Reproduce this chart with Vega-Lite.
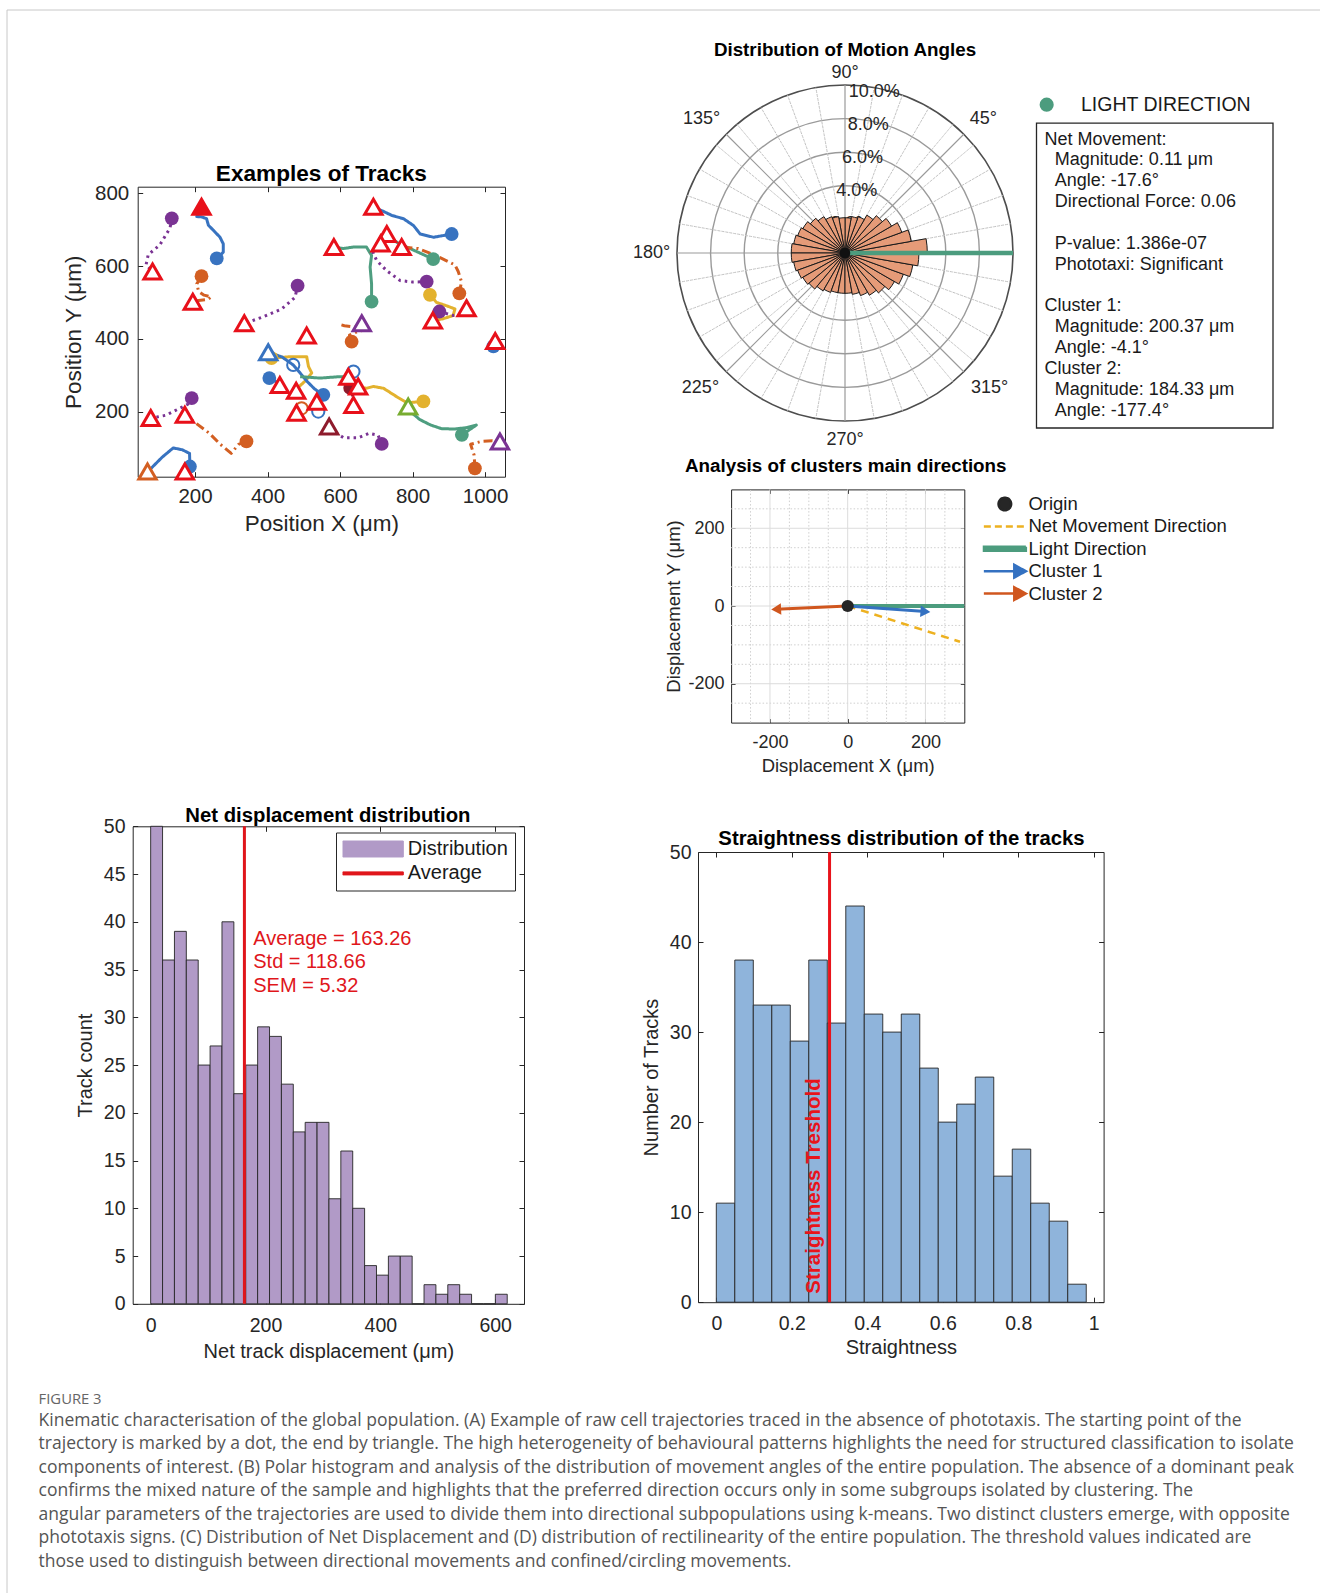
{
  "$schema": "https://vega.github.io/schema/vega-lite/v6.json",
  "width": 1320,
  "height": 1593,
  "padding": 0,
  "autosize": {"type": "none"},
  "background": "white",
  "config": {
    "view": {"stroke": null},
    "font": "Liberation Sans",
    "axis": {
      "domainColor": "#262626", "tickColor": "#262626", "labelColor": "#262626", "titleColor": "#262626",
      "domainWidth": 1, "tickWidth": 1, "tickSize": -5, "grid": false,
      "labelFlush": false, "labelOverlap": false, "labelBound": false,
      "titleFontWeight": "normal"
    }
  },
  "datasets": {
    "tracks": [
      {"t":1,"s":0,"x":136,"y":731,"c":"purple"},{"t":1,"s":1,"x":131,"y":704,"c":"purple"},{"t":1,"s":2,"x":103,"y":658,"c":"purple"},{"t":1,"s":3,"x":71,"y":631,"c":"purple"},{"t":1,"s":4,"x":65,"y":603,"c":"purple"},{"t":1,"s":5,"x":83,"y":585,"c":"purple"},
      {"t":2,"s":0,"x":260,"y":621,"c":"blue"},{"t":2,"s":1,"x":278,"y":638,"c":"blue"},{"t":2,"s":2,"x":278,"y":661,"c":"blue"},{"t":2,"s":3,"x":269,"y":679,"c":"blue"},{"t":2,"s":4,"x":251,"y":698,"c":"blue"},{"t":2,"s":5,"x":237,"y":712,"c":"blue"},{"t":2,"s":6,"x":232,"y":730,"c":"blue"},{"t":2,"s":7,"x":218,"y":735,"c":"blue"},{"t":2,"s":8,"x":205,"y":736,"c":"blue"},{"t":2,"s":9,"x":212,"y":748,"c":"blue"},
      {"t":3,"s":0,"x":218,"y":572,"c":"orange"},{"t":3,"s":1,"x":205,"y":551,"c":"orange"},{"t":3,"s":2,"x":210,"y":530,"c":"orange"},{"t":3,"s":3,"x":225,"y":520,"c":"orange"},{"t":3,"s":4,"x":245,"y":515,"c":"orange"},{"t":3,"s":5,"x":235,"y":508,"c":"orange"},{"t":3,"s":6,"x":210,"y":505,"c":"orange"},{"t":3,"s":7,"x":194,"y":503,"c":"orange"},
      {"t":4,"s":0,"x":483,"y":546,"c":"purple"},{"t":4,"s":1,"x":476,"y":514,"c":"purple"},{"t":4,"s":2,"x":439,"y":482,"c":"purple"},{"t":4,"s":3,"x":384,"y":459,"c":"purple"},{"t":4,"s":4,"x":336,"y":442,"c":"purple"},
      {"t":5,"s":0,"x":908,"y":688,"c":"blue"},{"t":5,"s":1,"x":858,"y":679,"c":"blue"},{"t":5,"s":2,"x":821,"y":688,"c":"blue"},{"t":5,"s":3,"x":803,"y":711,"c":"blue"},{"t":5,"s":4,"x":775,"y":730,"c":"blue"},{"t":5,"s":5,"x":743,"y":739,"c":"blue"},{"t":5,"s":6,"x":720,"y":750,"c":"blue"},{"t":5,"s":7,"x":692,"y":762,"c":"blue"},
      {"t":6,"s":0,"x":687,"y":502,"c":"teal"},{"t":6,"s":1,"x":687,"y":551,"c":"teal"},{"t":6,"s":2,"x":683,"y":597,"c":"teal"},{"t":6,"s":3,"x":687,"y":629,"c":"teal"},{"t":6,"s":4,"x":673,"y":652,"c":"teal"},{"t":6,"s":5,"x":636,"y":652,"c":"teal"},{"t":6,"s":6,"x":609,"y":648,"c":"teal"},{"t":6,"s":7,"x":584,"y":652,"c":"teal"},
      {"t":7,"s":0,"x":857,"y":619,"c":"teal"},{"t":7,"s":1,"x":802,"y":644,"c":"teal"},{"t":7,"s":2,"x":760,"y":663,"c":"teal"},{"t":7,"s":3,"x":729,"y":686,"c":"teal"},
      {"t":8,"s":0,"x":839,"y":557,"c":"purple"},{"t":8,"s":1,"x":800,"y":556,"c":"purple"},{"t":8,"s":2,"x":766,"y":560,"c":"purple"},{"t":8,"s":3,"x":729,"y":587,"c":"purple"},{"t":8,"s":4,"x":701,"y":615,"c":"purple"},{"t":8,"s":5,"x":690,"y":640,"c":"purple"},{"t":8,"s":6,"x":712,"y":662,"c":"purple"},
      {"t":9,"s":0,"x":929,"y":525,"c":"orange"},{"t":9,"s":1,"x":935,"y":557,"c":"orange"},{"t":9,"s":2,"x":926,"y":585,"c":"orange"},{"t":9,"s":3,"x":917,"y":603,"c":"orange"},{"t":9,"s":4,"x":899,"y":612,"c":"orange"},{"t":9,"s":5,"x":862,"y":630,"c":"orange"},{"t":9,"s":6,"x":816,"y":648,"c":"orange"},{"t":9,"s":7,"x":770,"y":652,"c":"orange"},
      {"t":10,"s":0,"x":848,"y":521,"c":"yellow"},{"t":10,"s":1,"x":866,"y":500,"c":"yellow"},{"t":10,"s":2,"x":893,"y":491,"c":"yellow"},{"t":10,"s":3,"x":917,"y":482,"c":"yellow"},{"t":10,"s":4,"x":912,"y":464,"c":"yellow"},{"t":10,"s":5,"x":884,"y":455,"c":"yellow"},{"t":10,"s":6,"x":856,"y":450,"c":"yellow"},
      {"t":11,"s":0,"x":874,"y":475,"c":"purple"},{"t":11,"s":1,"x":912,"y":464,"c":"purple"},{"t":11,"s":2,"x":940,"y":468,"c":"purple"},{"t":11,"s":3,"x":949,"y":482,"c":"purple"},
      {"t":12,"s":0,"x":632,"y":392,"c":"orange"},{"t":12,"s":1,"x":626,"y":410,"c":"orange"},{"t":12,"s":2,"x":648,"y":420,"c":"orange"},{"t":12,"s":3,"x":668,"y":424,"c":"orange"},{"t":12,"s":4,"x":645,"y":432,"c":"orange"},{"t":12,"s":5,"x":612,"y":436,"c":"orange"},{"t":12,"s":6,"x":598,"y":440,"c":"orange"},
      {"t":13,"s":0,"x":1023,"y":379,"c":"blue"},{"t":13,"s":1,"x":1012,"y":387,"c":"blue"},{"t":13,"s":2,"x":1028,"y":394,"c":"blue"},
      {"t":14,"s":0,"x":411,"y":347,"c":"yellow"},{"t":14,"s":1,"x":467,"y":351,"c":"yellow"},{"t":14,"s":2,"x":508,"y":351,"c":"yellow"},{"t":14,"s":3,"x":513,"y":324,"c":"yellow"},{"t":14,"s":4,"x":522,"y":306,"c":"yellow"},{"t":14,"s":5,"x":505,"y":285,"c":"yellow"},{"t":14,"s":6,"x":480,"y":262,"c":"yellow"},
      {"t":15,"s":0,"x":554,"y":246,"c":"blue"},{"t":15,"s":1,"x":530,"y":262,"c":"blue"},{"t":15,"s":2,"x":510,"y":282,"c":"blue"},{"t":15,"s":3,"x":495,"y":300,"c":"blue"},{"t":15,"s":4,"x":471,"y":328,"c":"blue"},{"t":15,"s":5,"x":440,"y":350,"c":"blue"},{"t":15,"s":6,"x":402,"y":363,"c":"blue"},
      {"t":16,"s":0,"x":405,"y":292,"c":"blue"},{"t":16,"s":1,"x":420,"y":285,"c":"blue"},{"t":16,"s":2,"x":434,"y":273,"c":"blue"},
      {"t":17,"s":0,"x":490,"y":296,"c":"teal"},{"t":17,"s":1,"x":545,"y":292,"c":"teal"},{"t":17,"s":2,"x":600,"y":296,"c":"teal"},{"t":17,"s":3,"x":621,"y":296,"c":"teal"},
      {"t":18,"s":0,"x":830,"y":228,"c":"yellow"},{"t":18,"s":1,"x":785,"y":224,"c":"yellow"},{"t":18,"s":2,"x":756,"y":241,"c":"yellow"},{"t":18,"s":3,"x":720,"y":264,"c":"yellow"},{"t":18,"s":4,"x":692,"y":269,"c":"yellow"},{"t":18,"s":5,"x":673,"y":264,"c":"yellow"},{"t":18,"s":6,"x":650,"y":268,"c":"yellow"},
      {"t":19,"s":0,"x":936,"y":136,"c":"teal"},{"t":19,"s":1,"x":960,"y":152,"c":"teal"},{"t":19,"s":2,"x":976,"y":163,"c":"teal"},{"t":19,"s":3,"x":950,"y":156,"c":"teal"},{"t":19,"s":4,"x":915,"y":152,"c":"teal"},{"t":19,"s":5,"x":880,"y":153,"c":"teal"},{"t":19,"s":6,"x":850,"y":163,"c":"teal"},{"t":19,"s":7,"x":820,"y":178,"c":"teal"},{"t":19,"s":8,"x":800,"y":195,"c":"teal"},{"t":19,"s":9,"x":788,"y":214,"c":"teal"},
      {"t":20,"s":0,"x":715,"y":111,"c":"purple"},{"t":20,"s":1,"x":705,"y":135,"c":"purple"},{"t":20,"s":2,"x":680,"y":140,"c":"purple"},{"t":20,"s":3,"x":650,"y":128,"c":"purple"},{"t":20,"s":4,"x":610,"y":128,"c":"purple"},{"t":20,"s":5,"x":575,"y":150,"c":"purple"},{"t":20,"s":6,"x":570,"y":159,"c":"purple"},
      {"t":21,"s":0,"x":191,"y":237,"c":"purple"},{"t":21,"s":1,"x":180,"y":220,"c":"purple"},{"t":21,"s":2,"x":150,"y":205,"c":"purple"},{"t":21,"s":3,"x":120,"y":190,"c":"purple"},{"t":21,"s":4,"x":95,"y":185,"c":"purple"},{"t":21,"s":5,"x":78,"y":182,"c":"purple"},
      {"t":22,"s":0,"x":342,"y":118,"c":"orange"},{"t":22,"s":1,"x":320,"y":110,"c":"orange"},{"t":22,"s":2,"x":300,"y":85,"c":"orange"},{"t":22,"s":3,"x":270,"y":110,"c":"orange"},{"t":22,"s":4,"x":240,"y":140,"c":"orange"},{"t":22,"s":5,"x":200,"y":170,"c":"orange"},{"t":22,"s":6,"x":172,"y":191,"c":"orange"},
      {"t":23,"s":0,"x":186,"y":49,"c":"blue"},{"t":23,"s":1,"x":185,"y":85,"c":"blue"},{"t":23,"s":2,"x":165,"y":95,"c":"blue"},{"t":23,"s":3,"x":140,"y":100,"c":"blue"},{"t":23,"s":4,"x":110,"y":75,"c":"blue"},{"t":23,"s":5,"x":80,"y":45,"c":"blue"},{"t":23,"s":6,"x":69,"y":35,"c":"blue"},
      {"t":24,"s":0,"x":972,"y":44,"c":"orange"},{"t":24,"s":1,"x":970,"y":80,"c":"orange"},{"t":24,"s":2,"x":960,"y":110,"c":"orange"},{"t":24,"s":3,"x":990,"y":118,"c":"orange"},{"t":24,"s":4,"x":1020,"y":120,"c":"orange"},{"t":24,"s":5,"x":1041,"y":118,"c":"orange"},
      {"t":25,"s":0,"x":628,"y":300,"c":"darkred"},{"t":25,"s":1,"x":624,"y":282,"c":"darkred"},{"t":25,"s":2,"x":630,"y":262,"c":"darkred"},{"t":25,"s":3,"x":636,"y":240,"c":"darkred"},{"t":25,"s":4,"x":637,"y":218,"c":"darkred"}
    ],
    "starts": [
      {"x":136,"y":731,"c":"purple"},{"x":260,"y":621,"c":"blue"},{"x":218,"y":572,"c":"orange"},{"x":483,"y":546,"c":"purple"},{"x":908,"y":688,"c":"blue"},{"x":687,"y":502,"c":"teal"},{"x":857,"y":619,"c":"teal"},{"x":839,"y":557,"c":"purple"},{"x":929,"y":525,"c":"orange"},{"x":848,"y":521,"c":"yellow"},{"x":874,"y":475,"c":"purple"},{"x":632,"y":392,"c":"orange"},{"x":1023,"y":379,"c":"blue"},{"x":411,"y":347,"c":"yellow"},{"x":405,"y":292,"c":"blue"},{"x":554,"y":246,"c":"blue"},{"x":830,"y":228,"c":"yellow"},{"x":936,"y":136,"c":"teal"},{"x":715,"y":111,"c":"purple"},{"x":191,"y":237,"c":"purple"},{"x":342,"y":118,"c":"orange"},{"x":186,"y":49,"c":"blue"},{"x":972,"y":44,"c":"orange"},{"x":628,"y":265,"c":"darkred"}
    ],
    "opens": [
      {"x":471,"y":328,"c":"blue"},{"x":637,"y":310,"c":"blue"},{"x":540,"y":200,"c":"blue"},{"x":494,"y":209,"c":"orange"}
    ],
    "ends": [
      {"x":83,"y":585,"c":"red"},{"x":194,"y":502,"c":"red"},{"x":336,"y":443,"c":"red"},{"x":692,"y":763,"c":"red"},{"x":583,"y":652,"c":"red"},{"x":729,"y":688,"c":"red"},{"x":712,"y":662,"c":"red"},{"x":770,"y":652,"c":"red"},{"x":949,"y":484,"c":"red"},{"x":856,"y":450,"c":"red"},{"x":660,"y":443,"c":"purple"},{"x":1028,"y":394,"c":"red"},{"x":508,"y":409,"c":"red"},{"x":402,"y":363,"c":"blue"},{"x":434,"y":273,"c":"red"},{"x":479,"y":257,"c":"red"},{"x":536,"y":227,"c":"red"},{"x":480,"y":197,"c":"red"},{"x":623,"y":296,"c":"red"},{"x":650,"y":269,"c":"red"},{"x":637,"y":218,"c":"red"},{"x":788,"y":214,"c":"yellowgreen"},{"x":570,"y":159,"c":"darkred"},{"x":1041,"y":118,"c":"purple"},{"x":78,"y":182,"c":"red"},{"x":172,"y":191,"c":"red"},{"x":69,"y":35,"c":"orange"},{"x":172,"y":35,"c":"red"}
    ],
    "rose": [
      {"a0":0,"a1":10,"r":4.9},{"a0":10,"a1":20,"r":4.0},{"a0":20,"a1":30,"r":3.6},{"a0":30,"a1":40,"r":3.2},{"a0":40,"a1":50,"r":2.9},{"a0":50,"a1":60,"r":2.6},{"a0":60,"a1":70,"r":2.3},{"a0":70,"a1":80,"r":2.2},{"a0":80,"a1":90,"r":2.1},
      {"a0":90,"a1":100,"r":2.1},{"a0":100,"a1":110,"r":2.2},{"a0":110,"a1":120,"r":2.3},{"a0":120,"a1":130,"r":2.5},{"a0":130,"a1":140,"r":2.7},{"a0":140,"a1":150,"r":2.9},{"a0":150,"a1":160,"r":3.0},{"a0":160,"a1":170,"r":3.1},{"a0":170,"a1":180,"r":3.2},
      {"a0":180,"a1":190,"r":3.2},{"a0":190,"a1":200,"r":3.1},{"a0":200,"a1":210,"r":3.0},{"a0":210,"a1":220,"r":2.9},{"a0":220,"a1":230,"r":2.8},{"a0":230,"a1":240,"r":2.6},{"a0":240,"a1":250,"r":2.5},{"a0":250,"a1":260,"r":2.4},{"a0":260,"a1":270,"r":2.4},
      {"a0":270,"a1":280,"r":2.4},{"a0":280,"a1":290,"r":2.5},{"a0":290,"a1":300,"r":2.7},{"a0":300,"a1":310,"r":2.9},{"a0":310,"a1":320,"r":3.1},{"a0":320,"a1":330,"r":3.4},{"a0":330,"a1":340,"r":3.7},{"a0":340,"a1":350,"r":4.1},{"a0":350,"a1":360,"r":4.4}
    ],
    "rings": [{"r":2},{"r":4},{"r":6},{"r":8}],
    "spokesMinor": [
      {"a":10},{"a":20},{"a":30},{"a":40},{"a":50},{"a":60},{"a":70},{"a":80},{"a":100},{"a":110},{"a":120},{"a":130},{"a":140},{"a":150},{"a":160},{"a":170},
      {"a":190},{"a":200},{"a":210},{"a":220},{"a":230},{"a":240},{"a":250},{"a":260},{"a":280},{"a":290},{"a":300},{"a":310},{"a":320},{"a":330},{"a":340},{"a":350}
    ],
    "spokesMajor": [{"a":0},{"a":45},{"a":90},{"a":135},{"a":180},{"a":225},{"a":270},{"a":315}],
    "pctLabels": [{"r":0,"lab":"0%"},{"r":2,"lab":"2.0%"},{"r":4,"lab":"4.0%"},{"r":6,"lab":"6.0%"},{"r":8,"lab":"8.0%"},{"r":10,"lab":"10.0%"}],
    "boxText": [
      {"line":0,"lvl":0,"txt":"Net Movement:"},
      {"line":1,"lvl":1,"txt":"Magnitude: 0.11 μm"},
      {"line":2,"lvl":1,"txt":"Angle: -17.6°"},
      {"line":3,"lvl":1,"txt":"Directional Force: 0.06"},
      {"line":5,"lvl":1,"txt":"P-value: 1.386e-07"},
      {"line":6,"lvl":1,"txt":"Phototaxi: Significant"},
      {"line":8,"lvl":0,"txt":"Cluster 1:"},
      {"line":9,"lvl":1,"txt":"Magnitude: 200.37 μm"},
      {"line":10,"lvl":1,"txt":"Angle: -4.1°"},
      {"line":11,"lvl":0,"txt":"Cluster 2:"},
      {"line":12,"lvl":1,"txt":"Magnitude: 184.33 μm"},
      {"line":13,"lvl":1,"txt":"Angle: -177.4°"}
    ],
    "vectors": [
      {"series":"Origin","x0":0,"y0":0,"x1":0,"y1":0,"ang":0},
      {"series":"Net Movement Direction","x0":0,"y0":0,"x1":289,"y1":-92,"ang":-17.6},
      {"series":"Light Direction","x0":0,"y0":0,"x1":300,"y1":0,"ang":0},
      {"series":"Cluster 1","x0":0,"y0":0,"x1":199.9,"y1":-14.3,"ang":-4.1},
      {"series":"Cluster 2","x0":0,"y0":0,"x1":-184.1,"y1":-8.4,"ang":-177.4}
    ],
    "minorGrid": [{"v":-250},{"v":-150},{"v":-100},{"v":-50},{"v":50},{"v":100},{"v":150},{"v":250}],
    "majorGrid": [{"v":-200},{"v":0},{"v":200}],
    "histC": [
      {"b0":0,"b1":20.7,"n":50},{"b0":20.7,"b1":41.4,"n":36},{"b0":41.4,"b1":62.1,"n":39},{"b0":62.1,"b1":82.8,"n":36},{"b0":82.8,"b1":103.5,"n":25},{"b0":103.5,"b1":124.2,"n":27},{"b0":124.2,"b1":144.9,"n":40},{"b0":144.9,"b1":165.6,"n":22},{"b0":165.6,"b1":186.3,"n":25},{"b0":186.3,"b1":207,"n":29},
      {"b0":207,"b1":227.7,"n":28},{"b0":227.7,"b1":248.4,"n":23},{"b0":248.4,"b1":269.1,"n":18},{"b0":269.1,"b1":289.8,"n":19},{"b0":289.8,"b1":310.5,"n":19},{"b0":310.5,"b1":331.2,"n":11},{"b0":331.2,"b1":351.9,"n":16},{"b0":351.9,"b1":372.6,"n":10},{"b0":372.6,"b1":393.3,"n":4},{"b0":393.3,"b1":414,"n":3},
      {"b0":414,"b1":434.7,"n":5},{"b0":434.7,"b1":455.4,"n":5},{"b0":455.4,"b1":476.1,"n":0},{"b0":476.1,"b1":496.8,"n":2},{"b0":496.8,"b1":517.5,"n":1},{"b0":517.5,"b1":538.2,"n":2},{"b0":538.2,"b1":558.9,"n":1},{"b0":558.9,"b1":579.6,"n":0},{"b0":579.6,"b1":600.3,"n":0},{"b0":600.3,"b1":621,"n":1}
    ],
    "histD": [
      {"b0":0,"b1":0.049,"n":11},{"b0":0.049,"b1":0.098,"n":38},{"b0":0.098,"b1":0.147,"n":33},{"b0":0.147,"b1":0.196,"n":33},{"b0":0.196,"b1":0.245,"n":29},{"b0":0.245,"b1":0.294,"n":38},{"b0":0.294,"b1":0.343,"n":31},{"b0":0.343,"b1":0.392,"n":44},{"b0":0.392,"b1":0.441,"n":32},{"b0":0.441,"b1":0.49,"n":30},
      {"b0":0.49,"b1":0.539,"n":32},{"b0":0.539,"b1":0.588,"n":26},{"b0":0.588,"b1":0.637,"n":20},{"b0":0.637,"b1":0.686,"n":22},{"b0":0.686,"b1":0.735,"n":25},{"b0":0.735,"b1":0.784,"n":14},{"b0":0.784,"b1":0.833,"n":17},{"b0":0.833,"b1":0.882,"n":11},{"b0":0.882,"b1":0.931,"n":9},{"b0":0.931,"b1":0.98,"n":2}
    ],
    "caption": [
      {"line":1,"txt":"Kinematic characterisation of the global population. (A) Example of raw cell trajectories traced in the absence of phototaxis. The starting point of the"},
      {"line":2,"txt":"trajectory is marked by a dot, the end by triangle. The high heterogeneity of behavioural patterns highlights the need for structured classification to isolate"},
      {"line":3,"txt":"components of interest. (B) Polar histogram and analysis of the distribution of movement angles of the entire population. The absence of a dominant peak"},
      {"line":4,"txt":"confirms the mixed nature of the sample and highlights that the preferred direction occurs only in some subgroups isolated by clustering. The"},
      {"line":5,"txt":"angular parameters of the trajectories are used to divide them into directional subpopulations using k-means. Two distinct clusters emerge, with opposite"},
      {"line":6,"txt":"phototaxis signs. (C) Distribution of Net Displacement and (D) distribution of rectilinearity of the entire population. The threshold values indicated are"},
      {"line":7,"txt":"those used to distinguish between directional movements and confined/circling movements."}
    ]
  },
  "layer": [
    {
      "data": {"values": [{}]},
      "mark": {"type": "rule", "stroke": "#c8c8c8", "strokeWidth": 1},
      "encoding": {
        "x": {"datum": 0, "type": "quantitative", "scale": {"domain": [0, 1], "range": [7, 1320], "nice": false, "zero": false}, "axis": null},
        "x2": {"datum": 1},
        "y": {"datum": 0, "type": "quantitative", "scale": {"domain": [0, 1], "range": [10, 1593], "nice": false, "zero": false}, "axis": null}
      }
    },
    {
      "data": {"values": [{}]},
      "mark": {"type": "rule", "stroke": "#c8c8c8", "strokeWidth": 1},
      "encoding": {
        "x": {"datum": 0, "type": "quantitative", "scale": {"domain": [0, 1], "range": [7, 1320], "nice": false, "zero": false}, "axis": null},
        "y": {"datum": 0, "type": "quantitative", "scale": {"domain": [0, 1], "range": [10, 1593], "nice": false, "zero": false}, "axis": null},
        "y2": {"datum": 1}
      }
    },
    {
      "data": {"values": [{}]},
      "mark": {"type": "point", "opacity": 0},
      "encoding": {
        "x": {"datum": 42, "type": "quantitative", "scale": {"domain": [42, 1055], "range": [137.7, 505], "nice": false, "zero": false}, "axis": {"orient": "top", "offset": -186.7, "values": [200, 400, 600, 800, 1000], "labels": false, "title": null}},
        "y": {"datum": 21, "type": "quantitative", "scale": {"domain": [21, 818], "range": [476.7, 186.7], "nice": false, "zero": false}, "axis": {"orient": "right", "offset": -815, "values": [200, 400, 600, 800], "labels": false, "title": null}}
      }
    },
    {
      "data": {"values": [{}]},
      "mark": {"type": "point", "opacity": 0},
      "encoding": {
        "x": {"datum": 42, "type": "quantitative", "scale": {"domain": [42, 1055], "range": [137.7, 505], "nice": false, "zero": false}, "axis": {"orient": "bottom", "offset": -1116.3, "values": [200, 400, 600, 800, 1000], "format": "d", "labelFontSize": 20.5, "labelPadding": 15, "title": "Position X (μm)", "titleFontSize": 22.5, "titlePadding": 5}},
        "y": {"datum": 21, "type": "quantitative", "scale": {"domain": [21, 818], "range": [476.7, 186.7], "nice": false, "zero": false}, "axis": {"orient": "left", "offset": -137.7, "values": [200, 400, 600, 800], "format": "d", "labelFontSize": 20.5, "labelPadding": 14, "title": "Position Y (μm)", "titleFontSize": 22.5, "titlePadding": 9}}
      }
    },
    {
      "data": {"name": "tracks"},
      "mark": {"type": "line", "strokeWidth": 3, "strokeJoin": "round"},
      "encoding": {
        "x": {"field": "x", "type": "quantitative", "scale": {"domain": [42, 1055], "range": [137.7, 505], "nice": false, "zero": false}, "axis": null},
        "y": {"field": "y", "type": "quantitative", "scale": {"domain": [21, 818], "range": [476.7, 186.7], "nice": false, "zero": false}, "axis": null},
        "detail": {"field": "t", "type": "nominal"},
        "order": {"field": "s", "type": "quantitative"},
        "color": {"field": "c", "type": "nominal", "scale": {"domain": ["blue", "orange", "yellow", "purple", "teal", "darkred"], "range": ["#3873C0", "#D35F22", "#E3B22E", "#7A3393", "#4E9E80", "#8E1B2C"]}, "legend": null},
        "strokeDash": {"field": "c", "type": "nominal", "scale": {"domain": ["blue", "orange", "yellow", "purple", "teal", "darkred"], "range": [[1, 0], [9, 4, 2, 4], [1, 0], [2.5, 4], [1, 0], [2.5, 4]]}, "legend": null}
      }
    },
    {
      "data": {"name": "starts"},
      "mark": {"type": "point", "filled": true, "size": 190, "opacity": 1},
      "encoding": {
        "x": {"field": "x", "type": "quantitative", "scale": {"domain": [42, 1055], "range": [137.7, 505], "nice": false, "zero": false}, "axis": null},
        "y": {"field": "y", "type": "quantitative", "scale": {"domain": [21, 818], "range": [476.7, 186.7], "nice": false, "zero": false}, "axis": null},
        "color": {"field": "c", "type": "nominal", "scale": {"domain": ["blue", "orange", "yellow", "purple", "teal", "darkred"], "range": ["#3873C0", "#D35F22", "#E3B22E", "#7A3393", "#4E9E80", "#8E1B2C"]}, "legend": null}
      }
    },
    {
      "data": {"name": "opens"},
      "mark": {"type": "point", "filled": false, "size": 150, "strokeWidth": 2, "opacity": 1},
      "encoding": {
        "x": {"field": "x", "type": "quantitative", "scale": {"domain": [42, 1055], "range": [137.7, 505], "nice": false, "zero": false}, "axis": null},
        "y": {"field": "y", "type": "quantitative", "scale": {"domain": [21, 818], "range": [476.7, 186.7], "nice": false, "zero": false}, "axis": null},
        "color": {"field": "c", "type": "nominal", "scale": {"domain": ["blue", "orange", "yellow", "purple", "teal", "darkred"], "range": ["#3873C0", "#D35F22", "#E3B22E", "#7A3393", "#4E9E80", "#8E1B2C"]}, "legend": null}
      }
    },
    {
      "data": {"name": "ends"},
      "mark": {"type": "point", "shape": "triangle-up", "size": 300, "strokeWidth": 3, "filled": true, "fill": "white", "opacity": 1},
      "encoding": {
        "x": {"field": "x", "type": "quantitative", "scale": {"domain": [42, 1055], "range": [137.7, 505], "nice": false, "zero": false}, "axis": null},
        "y": {"field": "y", "type": "quantitative", "scale": {"domain": [21, 818], "range": [476.7, 186.7], "nice": false, "zero": false}, "axis": null},
        "stroke": {"field": "c", "type": "nominal", "scale": {"domain": ["red", "purple", "blue", "yellowgreen", "darkred", "orange"], "range": ["#E8101A", "#7A3393", "#3873C0", "#77AC30", "#8E1B2C", "#D35F22"]}, "legend": null}
      }
    },
    {
      "data": {"values": [{"x": 218, "y": 763}]},
      "mark": {"type": "point", "shape": "triangle-up", "size": 300, "strokeWidth": 3, "filled": true, "fill": "#E8101A", "stroke": "#E8101A", "opacity": 1},
      "encoding": {
        "x": {"field": "x", "type": "quantitative", "scale": {"domain": [42, 1055], "range": [137.7, 505], "nice": false, "zero": false}, "axis": null},
        "y": {"field": "y", "type": "quantitative", "scale": {"domain": [21, 818], "range": [476.7, 186.7], "nice": false, "zero": false}, "axis": null}
      }
    },
    {
      "data": {"values": [{}]},
      "mark": {"type": "text", "text": "Examples of Tracks", "fontSize": 22.6, "fontWeight": "bold", "align": "center", "baseline": "middle", "color": "#000000"},
      "encoding": {
        "x": {"datum": 548.5, "type": "quantitative", "scale": {"domain": [42, 1055], "range": [137.7, 505], "nice": false, "zero": false}, "axis": null},
        "y": {"datum": 853, "type": "quantitative", "scale": {"domain": [21, 818], "range": [476.7, 186.7], "nice": false, "zero": false}, "axis": null}
      }
    },
    {
      "data": {"name": "rings"},
      "mark": {"type": "arc", "fill": "transparent", "stroke": "#9a9a9a", "strokeWidth": 1.4},
      "encoding": {
        "x": {"datum": 0, "type": "quantitative", "scale": {"domain": [-10, 10], "range": [677, 1013], "nice": false, "zero": false}, "axis": null},
        "y": {"datum": 0, "type": "quantitative", "scale": {"domain": [-10, 10], "range": [421, 85], "nice": false, "zero": false}, "axis": null},
        "theta": {"datum": 0, "type": "quantitative", "scale": {"type": "linear", "domain": [0, 360], "range": [7.853981634, 1.570796327], "nice": false, "zero": false}},
        "theta2": {"datum": 360},
        "radius": {"field": "r", "type": "quantitative", "stack": null, "scale": {"type": "linear", "domain": [0, 10], "range": [0, 168], "nice": false, "zero": true}}
      }
    },
    {
      "data": {"values": [{"r": 10}]},
      "mark": {"type": "arc", "fill": "transparent", "stroke": "#4d4d4d", "strokeWidth": 1.6},
      "encoding": {
        "x": {"datum": 0, "type": "quantitative", "scale": {"domain": [-10, 10], "range": [677, 1013], "nice": false, "zero": false}, "axis": null},
        "y": {"datum": 0, "type": "quantitative", "scale": {"domain": [-10, 10], "range": [421, 85], "nice": false, "zero": false}, "axis": null},
        "theta": {"datum": 0, "type": "quantitative", "scale": {"type": "linear", "domain": [0, 360], "range": [7.853981634, 1.570796327], "nice": false, "zero": false}},
        "theta2": {"datum": 360},
        "radius": {"field": "r", "type": "quantitative", "stack": null, "scale": {"type": "linear", "domain": [0, 10], "range": [0, 168], "nice": false, "zero": true}}
      }
    },
    {
      "data": {"name": "spokesMinor"},
      "mark": {"type": "arc", "fill": "transparent", "stroke": "#c2c2c2", "strokeWidth": 1, "strokeDash": [1.5, 2.5]},
      "encoding": {
        "x": {"datum": 0, "type": "quantitative", "scale": {"domain": [-10, 10], "range": [677, 1013], "nice": false, "zero": false}, "axis": null},
        "y": {"datum": 0, "type": "quantitative", "scale": {"domain": [-10, 10], "range": [421, 85], "nice": false, "zero": false}, "axis": null},
        "theta": {"field": "a", "type": "quantitative", "stack": null, "scale": {"type": "linear", "domain": [0, 360], "range": [7.853981634, 1.570796327], "nice": false, "zero": false}},
        "theta2": {"field": "a"},
        "radius": {"datum": 10, "type": "quantitative", "scale": {"type": "linear", "domain": [0, 10], "range": [0, 168], "nice": false, "zero": true}}
      }
    },
    {
      "data": {"name": "spokesMajor"},
      "mark": {"type": "arc", "fill": "transparent", "stroke": "#9a9a9a", "strokeWidth": 1.2},
      "encoding": {
        "x": {"datum": 0, "type": "quantitative", "scale": {"domain": [-10, 10], "range": [677, 1013], "nice": false, "zero": false}, "axis": null},
        "y": {"datum": 0, "type": "quantitative", "scale": {"domain": [-10, 10], "range": [421, 85], "nice": false, "zero": false}, "axis": null},
        "theta": {"field": "a", "type": "quantitative", "stack": null, "scale": {"type": "linear", "domain": [0, 360], "range": [7.853981634, 1.570796327], "nice": false, "zero": false}},
        "theta2": {"field": "a"},
        "radius": {"datum": 10, "type": "quantitative", "scale": {"type": "linear", "domain": [0, 10], "range": [0, 168], "nice": false, "zero": true}}
      }
    },
    {
      "data": {"name": "pctLabels"},
      "mark": {"type": "text", "fontSize": 18, "color": "#262626", "align": "center", "baseline": "middle", "dy": 4},
      "encoding": {
        "x": {"datum": 0, "type": "quantitative", "scale": {"domain": [-10, 10], "range": [677, 1013], "nice": false, "zero": false}, "axis": null},
        "y": {"datum": 0, "type": "quantitative", "scale": {"domain": [-10, 10], "range": [421, 85], "nice": false, "zero": false}, "axis": null},
        "theta": {"datum": 80, "type": "quantitative", "scale": {"type": "linear", "domain": [0, 360], "range": [7.853981634, 1.570796327], "nice": false, "zero": false}},
        "radius": {"field": "r", "type": "quantitative", "stack": null, "scale": {"type": "linear", "domain": [0, 10], "range": [0, 168], "nice": false, "zero": true}},
        "text": {"field": "lab", "type": "nominal"}
      }
    },
    {
      "data": {"name": "rose"},
      "mark": {"type": "arc", "fill": "#E59B78", "stroke": "#1a1a1a", "strokeWidth": 1},
      "encoding": {
        "x": {"datum": 0, "type": "quantitative", "scale": {"domain": [-10, 10], "range": [677, 1013], "nice": false, "zero": false}, "axis": null},
        "y": {"datum": 0, "type": "quantitative", "scale": {"domain": [-10, 10], "range": [421, 85], "nice": false, "zero": false}, "axis": null},
        "theta": {"field": "a0", "type": "quantitative", "stack": null, "scale": {"type": "linear", "domain": [0, 360], "range": [7.853981634, 1.570796327], "nice": false, "zero": false}},
        "theta2": {"field": "a1"},
        "radius": {"field": "r", "type": "quantitative", "stack": null, "scale": {"type": "linear", "domain": [0, 10], "range": [0, 168], "nice": false, "zero": true}}
      }
    },
    {
      "data": {"values": [{}]},
      "mark": {"type": "rule", "stroke": "#4C9C7E", "strokeWidth": 4.5},
      "encoding": {
        "x": {"datum": 0, "type": "quantitative", "scale": {"domain": [-10, 10], "range": [677, 1013], "nice": false, "zero": false}, "axis": null},
        "x2": {"datum": 10},
        "y": {"datum": 0, "type": "quantitative", "scale": {"domain": [-10, 10], "range": [421, 85], "nice": false, "zero": false}, "axis": null}
      }
    },
    {
      "data": {"values": [{}]},
      "mark": {"type": "point", "filled": true, "color": "#111111", "size": 110, "opacity": 1},
      "encoding": {
        "x": {"datum": 0, "type": "quantitative", "scale": {"domain": [-10, 10], "range": [677, 1013], "nice": false, "zero": false}, "axis": null},
        "y": {"datum": 0, "type": "quantitative", "scale": {"domain": [-10, 10], "range": [421, 85], "nice": false, "zero": false}, "axis": null}
      }
    },
    {"data": {"values": [{}]}, "mark": {"type": "text", "text": "45°", "fontSize": 18, "color": "#262626", "align": "left", "baseline": "bottom"},
      "encoding": {"x": {"datum": 0, "type": "quantitative", "scale": {"domain": [-10, 10], "range": [677, 1013], "nice": false, "zero": false}, "axis": null}, "y": {"datum": 0, "type": "quantitative", "scale": {"domain": [-10, 10], "range": [421, 85], "nice": false, "zero": false}, "axis": null},
        "theta": {"datum": 45, "type": "quantitative", "scale": {"type": "linear", "domain": [0, 360], "range": [7.853981634, 1.570796327], "nice": false, "zero": false}}, "radius": {"datum": 10.5, "type": "quantitative", "scale": {"type": "linear", "domain": [0, 10], "range": [0, 168], "nice": false, "zero": true}}}},
    {"data": {"values": [{}]}, "mark": {"type": "text", "text": "90°", "fontSize": 18, "color": "#262626", "align": "center", "baseline": "bottom"},
      "encoding": {"x": {"datum": 0, "type": "quantitative", "scale": {"domain": [-10, 10], "range": [677, 1013], "nice": false, "zero": false}, "axis": null}, "y": {"datum": 0, "type": "quantitative", "scale": {"domain": [-10, 10], "range": [421, 85], "nice": false, "zero": false}, "axis": null},
        "theta": {"datum": 90, "type": "quantitative", "scale": {"type": "linear", "domain": [0, 360], "range": [7.853981634, 1.570796327], "nice": false, "zero": false}}, "radius": {"datum": 10.2, "type": "quantitative", "scale": {"type": "linear", "domain": [0, 10], "range": [0, 168], "nice": false, "zero": true}}}},
    {"data": {"values": [{}]}, "mark": {"type": "text", "text": "135°", "fontSize": 18, "color": "#262626", "align": "right", "baseline": "bottom"},
      "encoding": {"x": {"datum": 0, "type": "quantitative", "scale": {"domain": [-10, 10], "range": [677, 1013], "nice": false, "zero": false}, "axis": null}, "y": {"datum": 0, "type": "quantitative", "scale": {"domain": [-10, 10], "range": [421, 85], "nice": false, "zero": false}, "axis": null},
        "theta": {"datum": 135, "type": "quantitative", "scale": {"type": "linear", "domain": [0, 360], "range": [7.853981634, 1.570796327], "nice": false, "zero": false}}, "radius": {"datum": 10.5, "type": "quantitative", "scale": {"type": "linear", "domain": [0, 10], "range": [0, 168], "nice": false, "zero": true}}}},
    {"data": {"values": [{}]}, "mark": {"type": "text", "text": "180°", "fontSize": 18, "color": "#262626", "align": "right", "baseline": "middle"},
      "encoding": {"x": {"datum": 0, "type": "quantitative", "scale": {"domain": [-10, 10], "range": [677, 1013], "nice": false, "zero": false}, "axis": null}, "y": {"datum": 0, "type": "quantitative", "scale": {"domain": [-10, 10], "range": [421, 85], "nice": false, "zero": false}, "axis": null},
        "theta": {"datum": 180, "type": "quantitative", "scale": {"type": "linear", "domain": [0, 360], "range": [7.853981634, 1.570796327], "nice": false, "zero": false}}, "radius": {"datum": 10.4, "type": "quantitative", "scale": {"type": "linear", "domain": [0, 10], "range": [0, 168], "nice": false, "zero": true}}}},
    {"data": {"values": [{}]}, "mark": {"type": "text", "text": "225°", "fontSize": 18, "color": "#262626", "align": "right", "baseline": "top"},
      "encoding": {"x": {"datum": 0, "type": "quantitative", "scale": {"domain": [-10, 10], "range": [677, 1013], "nice": false, "zero": false}, "axis": null}, "y": {"datum": 0, "type": "quantitative", "scale": {"domain": [-10, 10], "range": [421, 85], "nice": false, "zero": false}, "axis": null},
        "theta": {"datum": 225, "type": "quantitative", "scale": {"type": "linear", "domain": [0, 360], "range": [7.853981634, 1.570796327], "nice": false, "zero": false}}, "radius": {"datum": 10.6, "type": "quantitative", "scale": {"type": "linear", "domain": [0, 10], "range": [0, 168], "nice": false, "zero": true}}}},
    {"data": {"values": [{}]}, "mark": {"type": "text", "text": "270°", "fontSize": 18, "color": "#262626", "align": "center", "baseline": "top"},
      "encoding": {"x": {"datum": 0, "type": "quantitative", "scale": {"domain": [-10, 10], "range": [677, 1013], "nice": false, "zero": false}, "axis": null}, "y": {"datum": 0, "type": "quantitative", "scale": {"domain": [-10, 10], "range": [421, 85], "nice": false, "zero": false}, "axis": null},
        "theta": {"datum": 270, "type": "quantitative", "scale": {"type": "linear", "domain": [0, 360], "range": [7.853981634, 1.570796327], "nice": false, "zero": false}}, "radius": {"datum": 10.6, "type": "quantitative", "scale": {"type": "linear", "domain": [0, 10], "range": [0, 168], "nice": false, "zero": true}}}},
    {"data": {"values": [{}]}, "mark": {"type": "text", "text": "315°", "fontSize": 18, "color": "#262626", "align": "left", "baseline": "top"},
      "encoding": {"x": {"datum": 0, "type": "quantitative", "scale": {"domain": [-10, 10], "range": [677, 1013], "nice": false, "zero": false}, "axis": null}, "y": {"datum": 0, "type": "quantitative", "scale": {"domain": [-10, 10], "range": [421, 85], "nice": false, "zero": false}, "axis": null},
        "theta": {"datum": 315, "type": "quantitative", "scale": {"type": "linear", "domain": [0, 360], "range": [7.853981634, 1.570796327], "nice": false, "zero": false}}, "radius": {"datum": 10.6, "type": "quantitative", "scale": {"type": "linear", "domain": [0, 10], "range": [0, 168], "nice": false, "zero": true}}}},
    {
      "data": {"values": [{}]},
      "mark": {"type": "text", "text": "Distribution of Motion Angles", "fontSize": 18.8, "fontWeight": "bold", "align": "center", "baseline": "middle", "color": "#000000"},
      "encoding": {
        "x": {"datum": 0, "type": "quantitative", "scale": {"domain": [-10, 10], "range": [677, 1013], "nice": false, "zero": false}, "axis": null},
        "y": {"datum": 12.1, "type": "quantitative", "scale": {"domain": [-10, 10], "range": [421, 85], "nice": false, "zero": false}, "axis": null}
      }
    },
    {
      "data": {"values": [{}]},
      "mark": {"type": "rect", "fill": "white", "stroke": "#262626", "strokeWidth": 1.3},
      "encoding": {
        "x": {"datum": 0, "type": "quantitative", "scale": {"domain": [0, 1], "range": [1036.5, 1273], "nice": false, "zero": false}, "axis": null},
        "x2": {"datum": 1},
        "y": {"datum": -0.79, "type": "quantitative", "scale": {"domain": [0, 13], "range": [139.5, 410.5], "nice": false, "zero": false}, "axis": null},
        "y2": {"datum": 13.84}
      }
    },
    {
      "data": {"name": "boxText"},
      "transform": [{"filter": "datum.lvl === 0"}],
      "mark": {"type": "text", "align": "left", "baseline": "middle", "fontSize": 18, "color": "#1a1a1a"},
      "encoding": {
        "x": {"datum": 0.034, "type": "quantitative", "scale": {"domain": [0, 1], "range": [1036.5, 1273], "nice": false, "zero": false}, "axis": null},
        "y": {"field": "line", "type": "quantitative", "scale": {"domain": [0, 13], "range": [139.5, 410.5], "nice": false, "zero": false}, "axis": null},
        "text": {"field": "txt", "type": "nominal"}
      }
    },
    {
      "data": {"name": "boxText"},
      "transform": [{"filter": "datum.lvl === 1"}],
      "mark": {"type": "text", "align": "left", "baseline": "middle", "fontSize": 18, "color": "#1a1a1a"},
      "encoding": {
        "x": {"datum": 0.0774, "type": "quantitative", "scale": {"domain": [0, 1], "range": [1036.5, 1273], "nice": false, "zero": false}, "axis": null},
        "y": {"field": "line", "type": "quantitative", "scale": {"domain": [0, 13], "range": [139.5, 410.5], "nice": false, "zero": false}, "axis": null},
        "text": {"field": "txt", "type": "nominal"}
      }
    },
    {
      "data": {"values": [{}]},
      "mark": {"type": "point", "filled": true, "size": 200, "color": "#4C9C7E", "opacity": 1},
      "encoding": {
        "x": {"datum": 0.043, "type": "quantitative", "scale": {"domain": [0, 1], "range": [1036.5, 1273], "nice": false, "zero": false}, "axis": null},
        "y": {"datum": -1.67, "type": "quantitative", "scale": {"domain": [0, 13], "range": [139.5, 410.5], "nice": false, "zero": false}, "axis": null}
      }
    },
    {
      "data": {"values": [{}]},
      "mark": {"type": "text", "text": "LIGHT DIRECTION", "align": "left", "baseline": "middle", "fontSize": 19.5, "color": "#1a1a1a"},
      "encoding": {
        "x": {"datum": 0.188, "type": "quantitative", "scale": {"domain": [0, 1], "range": [1036.5, 1273], "nice": false, "zero": false}, "axis": null},
        "y": {"datum": -1.67, "type": "quantitative", "scale": {"domain": [0, 13], "range": [139.5, 410.5], "nice": false, "zero": false}, "axis": null}
      }
    },
    {
      "data": {"name": "minorGrid"},
      "mark": {"type": "rule", "stroke": "#cfcfcf", "strokeWidth": 1, "strokeDash": [1.5, 2]},
      "encoding": {
        "x": {"field": "v", "type": "quantitative", "scale": {"domain": [-300, 300], "range": [731.1, 964.3], "nice": false, "zero": false}, "axis": null},
        "y": {"datum": -300, "type": "quantitative", "scale": {"domain": [-300, 300], "range": [722.6, 489.4], "nice": false, "zero": false}, "axis": null},
        "y2": {"datum": 300}
      }
    },
    {
      "data": {"name": "minorGrid"},
      "mark": {"type": "rule", "stroke": "#cfcfcf", "strokeWidth": 1, "strokeDash": [1.5, 2]},
      "encoding": {
        "y": {"field": "v", "type": "quantitative", "scale": {"domain": [-300, 300], "range": [722.6, 489.4], "nice": false, "zero": false}, "axis": null},
        "x": {"datum": -300, "type": "quantitative", "scale": {"domain": [-300, 300], "range": [731.1, 964.3], "nice": false, "zero": false}, "axis": null},
        "x2": {"datum": 300}
      }
    },
    {
      "data": {"name": "majorGrid"},
      "mark": {"type": "rule", "stroke": "#dcdcdc", "strokeWidth": 1},
      "encoding": {
        "x": {"field": "v", "type": "quantitative", "scale": {"domain": [-300, 300], "range": [731.1, 964.3], "nice": false, "zero": false}, "axis": null},
        "y": {"datum": -300, "type": "quantitative", "scale": {"domain": [-300, 300], "range": [722.6, 489.4], "nice": false, "zero": false}, "axis": null},
        "y2": {"datum": 300}
      }
    },
    {
      "data": {"name": "majorGrid"},
      "mark": {"type": "rule", "stroke": "#dcdcdc", "strokeWidth": 1},
      "encoding": {
        "y": {"field": "v", "type": "quantitative", "scale": {"domain": [-300, 300], "range": [722.6, 489.4], "nice": false, "zero": false}, "axis": null},
        "x": {"datum": -300, "type": "quantitative", "scale": {"domain": [-300, 300], "range": [731.1, 964.3], "nice": false, "zero": false}, "axis": null},
        "x2": {"datum": 300}
      }
    },
    {
      "data": {"values": [{}]},
      "mark": {"type": "point", "opacity": 0},
      "encoding": {
        "x": {"datum": -300, "type": "quantitative", "scale": {"domain": [-300, 300], "range": [731.1, 964.3], "nice": false, "zero": false}, "axis": {"orient": "top", "offset": -489.4, "values": [-200, 0, 200], "labels": false, "title": null, "tickSize": -4}},
        "y": {"datum": -300, "type": "quantitative", "scale": {"domain": [-300, 300], "range": [722.6, 489.4], "nice": false, "zero": false}, "axis": {"orient": "right", "offset": -355.7, "values": [-200, 0, 200], "labels": false, "title": null, "tickSize": -4}}
      }
    },
    {
      "data": {"values": [{}]},
      "mark": {"type": "point", "opacity": 0},
      "encoding": {
        "x": {"datum": -300, "type": "quantitative", "scale": {"domain": [-300, 300], "range": [731.1, 964.3], "nice": false, "zero": false}, "axis": {"orient": "bottom", "offset": -870.4, "values": [-200, 0, 200], "format": "d", "labelExpr": "replace(datum.label, '−', '-')", "labelFontSize": 18, "labelPadding": 15, "tickSize": -4, "title": "Displacement X (μm)", "titleFontSize": 18.5, "titlePadding": 5}},
        "y": {"datum": -300, "type": "quantitative", "scale": {"domain": [-300, 300], "range": [722.6, 489.4], "nice": false, "zero": false}, "axis": {"orient": "left", "offset": -731.1, "values": [-200, 0, 200], "format": "d", "labelExpr": "replace(datum.label, '−', '-')", "labelFontSize": 18, "labelPadding": 11, "tickSize": -4, "title": "Displacement Y (μm)", "titleFontSize": 18.5, "titlePadding": 5}}
      }
    },
    {
      "data": {"name": "vectors"},
      "transform": [{"filter": "datum.series === 'Light Direction'"}],
      "mark": {"type": "rule", "strokeWidth": 4},
      "encoding": {
        "x": {"field": "x0", "type": "quantitative", "scale": {"domain": [-300, 300], "range": [731.1, 964.3], "nice": false, "zero": false}, "axis": null},
        "y": {"field": "y0", "type": "quantitative", "scale": {"domain": [-300, 300], "range": [722.6, 489.4], "nice": false, "zero": false}, "axis": null},
        "x2": {"field": "x1"}, "y2": {"field": "y1"},
        "color": {
          "field": "series", "type": "nominal",
          "scale": {"domain": ["Origin", "Net Movement Direction", "Light Direction", "Cluster 1", "Cluster 2"], "range": ["#262626", "#EDB120", "#4C9C7E", "#3471C1", "#D0561E"]},
          "legend": {
            "orient": "none", "legendX": 982.35, "legendY": 494.75, "title": null, "padding": 0,
            "labelFontSize": 18.5, "labelColor": "#1a1a1a", "labelLimit": 400, "labelOffset": 1.05,
            "symbolSize": 1764, "symbolStrokeWidth": 2.5, "symbolOffset": 0, "clipHeight": 18.5, "rowPadding": 3.4,
            "encode": {
              "symbols": {
                "update": {
                  "size": {"value": 1764},
                  "shape": {"signal": "datum.value === 'Origin' ? 'M-0.3,0A0.3,0.3 0 1,0 0.3,0A0.3,0.3 0 1,0 -0.3,0Z' : datum.value === 'Light Direction' ? 'M-1,-0.095L1,-0.095L1,0.095L-1,0.095Z' : (datum.value === 'Cluster 1' || datum.value === 'Cluster 2') ? 'M-1,0L0.45,0M0.45,-0.3L1,0L0.45,0.3Z' : 'M-1,0L1,0'"},
                  "fill": {"signal": "datum.value === 'Origin' ? '#262626' : datum.value === 'Light Direction' ? '#4C9C7E' : datum.value === 'Cluster 1' ? '#3471C1' : datum.value === 'Cluster 2' ? '#D0561E' : 'transparent'"},
                  "stroke": {"signal": "datum.value === 'Origin' ? '#262626' : datum.value === 'Net Movement Direction' ? '#EDB120' : datum.value === 'Light Direction' ? 'transparent' : datum.value === 'Cluster 1' ? '#3471C1' : '#D0561E'"},
                  "strokeDash": {"signal": "datum.value === 'Net Movement Direction' ? [7, 4] : [1, 0]"},
                  "opacity": {"value": 1}
                }
              }
            }
          }
        }
      }
    },
    {
      "data": {"name": "vectors"},
      "transform": [{"filter": "datum.series === 'Net Movement Direction'"}],
      "mark": {"type": "rule", "strokeWidth": 2.5, "strokeDash": [8, 6]},
      "encoding": {
        "x": {"field": "x0", "type": "quantitative", "scale": {"domain": [-300, 300], "range": [731.1, 964.3], "nice": false, "zero": false}, "axis": null},
        "y": {"field": "y0", "type": "quantitative", "scale": {"domain": [-300, 300], "range": [722.6, 489.4], "nice": false, "zero": false}, "axis": null},
        "x2": {"field": "x1"}, "y2": {"field": "y1"},
        "color": {"field": "series", "type": "nominal", "scale": {"domain": ["Origin", "Net Movement Direction", "Light Direction", "Cluster 1", "Cluster 2"], "range": ["#262626", "#EDB120", "#4C9C7E", "#3471C1", "#D0561E"]}, "legend": null}
      }
    },
    {
      "data": {"name": "vectors"},
      "transform": [{"filter": "datum.series === 'Cluster 1' || datum.series === 'Cluster 2'"}],
      "mark": {"type": "rule", "strokeWidth": 3},
      "encoding": {
        "x": {"field": "x0", "type": "quantitative", "scale": {"domain": [-300, 300], "range": [731.1, 964.3], "nice": false, "zero": false}, "axis": null},
        "y": {"field": "y0", "type": "quantitative", "scale": {"domain": [-300, 300], "range": [722.6, 489.4], "nice": false, "zero": false}, "axis": null},
        "x2": {"field": "x1"}, "y2": {"field": "y1"},
        "color": {"field": "series", "type": "nominal", "scale": {"domain": ["Origin", "Net Movement Direction", "Light Direction", "Cluster 1", "Cluster 2"], "range": ["#262626", "#EDB120", "#4C9C7E", "#3471C1", "#D0561E"]}, "legend": null}
      }
    },
    {
      "data": {"name": "vectors"},
      "transform": [{"filter": "datum.series === 'Cluster 1' || datum.series === 'Cluster 2'"}],
      "mark": {"type": "point", "shape": "triangle-right", "filled": true, "size": 130, "opacity": 1},
      "encoding": {
        "x": {"field": "x1", "type": "quantitative", "scale": {"domain": [-300, 300], "range": [731.1, 964.3], "nice": false, "zero": false}, "axis": null},
        "y": {"field": "y1", "type": "quantitative", "scale": {"domain": [-300, 300], "range": [722.6, 489.4], "nice": false, "zero": false}, "axis": null},
        "angle": {"field": "ang", "type": "quantitative", "scale": {"domain": [-360, 360], "range": [360, -360]}, "legend": null},
        "color": {"field": "series", "type": "nominal", "scale": {"domain": ["Origin", "Net Movement Direction", "Light Direction", "Cluster 1", "Cluster 2"], "range": ["#262626", "#EDB120", "#4C9C7E", "#3471C1", "#D0561E"]}, "legend": null}
      }
    },
    {
      "data": {"name": "vectors"},
      "transform": [{"filter": "datum.series === 'Origin'"}],
      "mark": {"type": "point", "filled": true, "size": 150, "opacity": 1},
      "encoding": {
        "x": {"field": "x0", "type": "quantitative", "scale": {"domain": [-300, 300], "range": [731.1, 964.3], "nice": false, "zero": false}, "axis": null},
        "y": {"field": "y0", "type": "quantitative", "scale": {"domain": [-300, 300], "range": [722.6, 489.4], "nice": false, "zero": false}, "axis": null},
        "color": {"field": "series", "type": "nominal", "scale": {"domain": ["Origin", "Net Movement Direction", "Light Direction", "Cluster 1", "Cluster 2"], "range": ["#262626", "#EDB120", "#4C9C7E", "#3471C1", "#D0561E"]}, "legend": null}
      }
    },
    {
      "data": {"values": [{}]},
      "mark": {"type": "text", "text": "Analysis of clusters main directions", "fontSize": 18.8, "fontWeight": "bold", "align": "center", "baseline": "middle", "color": "#000000"},
      "encoding": {
        "x": {"datum": -5, "type": "quantitative", "scale": {"domain": [-300, 300], "range": [731.1, 964.3], "nice": false, "zero": false}, "axis": null},
        "y": {"datum": 359.2, "type": "quantitative", "scale": {"domain": [-300, 300], "range": [722.6, 489.4], "nice": false, "zero": false}, "axis": null}
      }
    },
    {
      "data": {"name": "histC"},
      "mark": {"type": "rect", "fill": "#B19AC7", "stroke": "#262626", "strokeWidth": 0.9},
      "encoding": {
        "x": {"field": "b0", "type": "quantitative", "scale": {"domain": [-31.3, 650.2], "range": [132.7, 524], "nice": false, "zero": false}, "axis": null},
        "x2": {"field": "b1"},
        "y": {"field": "n", "type": "quantitative", "scale": {"domain": [0, 50], "range": [1303.8, 826.3], "nice": false, "zero": false}, "axis": null},
        "y2": {"datum": 0}
      }
    },
    {
      "data": {"values": [{"avg": 163.26}]},
      "mark": {"type": "rule", "stroke": "#E0161B", "strokeWidth": 3},
      "encoding": {
        "x": {"field": "avg", "type": "quantitative", "scale": {"domain": [-31.3, 650.2], "range": [132.7, 524], "nice": false, "zero": false}, "axis": null},
        "y": {"datum": 0, "type": "quantitative", "scale": {"domain": [0, 50], "range": [1303.8, 826.3], "nice": false, "zero": false}, "axis": null},
        "y2": {"datum": 50}
      }
    },
    {
      "data": {"values": [{}]},
      "mark": {"type": "point", "opacity": 0},
      "encoding": {
        "x": {"datum": 0, "type": "quantitative", "scale": {"domain": [-31.3, 650.2], "range": [132.7, 524], "nice": false, "zero": false}, "axis": {"orient": "top", "offset": -826.3, "values": [0, 200, 400, 600], "labels": false, "title": null}},
        "y": {"datum": 0, "type": "quantitative", "scale": {"domain": [0, 50], "range": [1303.8, 826.3], "nice": false, "zero": false}, "axis": {"orient": "right", "offset": -796, "values": [0, 5, 10, 15, 20, 25, 30, 35, 40, 45, 50], "labels": false, "title": null}}
      }
    },
    {
      "data": {"values": [{}]},
      "mark": {"type": "point", "opacity": 0},
      "encoding": {
        "x": {"datum": 0, "type": "quantitative", "scale": {"domain": [-31.3, 650.2], "range": [132.7, 524], "nice": false, "zero": false}, "axis": {"orient": "bottom", "offset": -289.2, "values": [0, 200, 400, 600], "format": "d", "labelFontSize": 19.5, "labelPadding": 18, "title": "Net track displacement (μm)", "titleFontSize": 20, "titlePadding": 6}},
        "y": {"datum": 0, "type": "quantitative", "scale": {"domain": [0, 50], "range": [1303.8, 826.3], "nice": false, "zero": false}, "axis": {"orient": "left", "offset": -132.7, "values": [0, 5, 10, 15, 20, 25, 30, 35, 40, 45, 50], "format": "d", "labelFontSize": 19.5, "labelPadding": 12.7, "title": "Track count", "titleFontSize": 20, "titlePadding": 8}}
      }
    },
    {
      "data": {"values": [{}]},
      "mark": {"type": "text", "text": ["Average = 163.26", "Std = 118.66", "SEM = 5.32"], "lineHeight": 23.4, "fontSize": 20, "color": "#E0161B", "align": "left", "baseline": "top"},
      "encoding": {
        "x": {"datum": 178.7, "type": "quantitative", "scale": {"domain": [-31.3, 650.2], "range": [132.7, 524], "nice": false, "zero": false}, "axis": null},
        "y": {"datum": 39.26, "type": "quantitative", "scale": {"domain": [0, 50], "range": [1303.8, 826.3], "nice": false, "zero": false}, "axis": null}
      }
    },
    {
      "data": {"values": [{"s": "Distribution"}, {"s": "Average"}]},
      "mark": {"type": "rule", "opacity": 0},
      "encoding": {
        "x": {"datum": 0, "type": "quantitative", "scale": {"domain": [-31.3, 650.2], "range": [132.7, 524], "nice": false, "zero": false}, "axis": null},
        "x2": {"datum": 1},
        "y": {"datum": 0, "type": "quantitative", "scale": {"domain": [0, 50], "range": [1303.8, 826.3], "nice": false, "zero": false}, "axis": null},
        "color": {
          "field": "s", "type": "nominal",
          "scale": {"domain": ["Distribution", "Average"], "range": ["#B19AC7", "#E0161B"]},
          "legend": {
            "orient": "none", "legendX": 336, "legendY": 832.5, "title": null, "padding": 6.5,
            "strokeColor": "#262626", "fillColor": "white",
            "labelFontSize": 20, "labelColor": "#1a1a1a", "labelLimit": 300, "labelOffset": 3.8,
            "symbolSize": 3672, "symbolStrokeWidth": 1, "symbolOffset": -0.5, "clipHeight": 20, "rowPadding": 4.4,
            "encode": {
              "symbols": {
                "update": {
                  "size": {"value": 3672},
                  "shape": {"signal": "datum.value === 'Distribution' ? 'M-1,-0.264L1,-0.264L1,0.264L-1,0.264Z' : 'M-1,-0.05L1,-0.05L1,0.05L-1,0.05Z'"},
                  "fill": {"signal": "datum.value === 'Distribution' ? '#B19AC7' : '#E0161B'"},
                  "stroke": {"signal": "datum.value === 'Distribution' ? '#262626' : 'transparent'"},
                  "opacity": {"value": 1}
                }
              }
            }
          }
        }
      }
    },
    {
      "data": {"values": [{}]},
      "mark": {"type": "text", "text": "Net displacement distribution", "fontSize": 20.3, "fontWeight": "bold", "align": "center", "baseline": "middle", "color": "#000000"},
      "encoding": {
        "x": {"datum": 308.7, "type": "quantitative", "scale": {"domain": [-31.3, 650.2], "range": [132.7, 524], "nice": false, "zero": false}, "axis": null},
        "y": {"datum": 51.1, "type": "quantitative", "scale": {"domain": [0, 50], "range": [1303.8, 826.3], "nice": false, "zero": false}, "axis": null}
      }
    },
    {
      "data": {"name": "histD"},
      "mark": {"type": "rect", "fill": "#8FB4DB", "stroke": "#262626", "strokeWidth": 0.9},
      "encoding": {
        "x": {"field": "b0", "type": "quantitative", "scale": {"domain": [-0.0485, 1.026], "range": [698, 1103.6], "nice": false, "zero": false}, "axis": null},
        "x2": {"field": "b1"},
        "y": {"field": "n", "type": "quantitative", "scale": {"domain": [0, 50], "range": [1302.2, 852], "nice": false, "zero": false}, "axis": null},
        "y2": {"datum": 0}
      }
    },
    {
      "data": {"values": [{"thr": 0.3}]},
      "mark": {"type": "rule", "stroke": "#E8141B", "strokeWidth": 3},
      "encoding": {
        "x": {"field": "thr", "type": "quantitative", "scale": {"domain": [-0.0485, 1.026], "range": [698, 1103.6], "nice": false, "zero": false}, "axis": null},
        "y": {"datum": 0, "type": "quantitative", "scale": {"domain": [0, 50], "range": [1302.2, 852], "nice": false, "zero": false}, "axis": null},
        "y2": {"datum": 50}
      }
    },
    {
      "data": {"values": [{}]},
      "mark": {"type": "point", "opacity": 0},
      "encoding": {
        "x": {"datum": 0, "type": "quantitative", "scale": {"domain": [-0.0485, 1.026], "range": [698, 1103.6], "nice": false, "zero": false}, "axis": {"orient": "top", "offset": -852, "values": [0, 0.2, 0.4, 0.6, 0.8, 1], "labels": false, "title": null}},
        "y": {"datum": 0, "type": "quantitative", "scale": {"domain": [0, 50], "range": [1302.2, 852], "nice": false, "zero": false}, "axis": {"orient": "right", "offset": -216.4, "values": [0, 10, 20, 30, 40, 50], "labels": false, "title": null}}
      }
    },
    {
      "data": {"values": [{}]},
      "mark": {"type": "point", "opacity": 0},
      "encoding": {
        "x": {"datum": 0, "type": "quantitative", "scale": {"domain": [-0.0485, 1.026], "range": [698, 1103.6], "nice": false, "zero": false}, "axis": {"orient": "bottom", "offset": -290.8, "values": [0, 0.2, 0.4, 0.6, 0.8, 1], "format": "~g", "labelFontSize": 19.5, "labelPadding": 17, "title": "Straightness", "titleFontSize": 20, "titlePadding": 5}},
        "y": {"datum": 0, "type": "quantitative", "scale": {"domain": [0, 50], "range": [1302.2, 852], "nice": false, "zero": false}, "axis": {"orient": "left", "offset": -698, "values": [0, 10, 20, 30, 40, 50], "format": "d", "labelFontSize": 19.5, "labelPadding": 12, "title": "Number of Tracks", "titleFontSize": 20, "titlePadding": 8}}
      }
    },
    {
      "data": {"values": [{}]},
      "mark": {"type": "text", "text": "Straightness Treshold", "angle": 270, "fontSize": 20.5, "fontWeight": "bold", "color": "#E8141B", "align": "left", "baseline": "middle"},
      "encoding": {
        "x": {"datum": 0.259, "type": "quantitative", "scale": {"domain": [-0.0485, 1.026], "range": [698, 1103.6], "nice": false, "zero": false}, "axis": null},
        "y": {"datum": 0.95, "type": "quantitative", "scale": {"domain": [0, 50], "range": [1302.2, 852], "nice": false, "zero": false}, "axis": null}
      }
    },
    {
      "data": {"values": [{}]},
      "mark": {"type": "text", "text": "Straightness distribution of the tracks", "fontSize": 20.3, "fontWeight": "bold", "align": "center", "baseline": "middle", "color": "#000000"},
      "encoding": {
        "x": {"datum": 0.4906, "type": "quantitative", "scale": {"domain": [-0.0485, 1.026], "range": [698, 1103.6], "nice": false, "zero": false}, "axis": null},
        "y": {"datum": 51.4, "type": "quantitative", "scale": {"domain": [0, 50], "range": [1302.2, 852], "nice": false, "zero": false}, "axis": null}
      }
    },
    {
      "data": {"name": "caption"},
      "mark": {"type": "text", "font": "Open Sans", "fontSize": 17.5, "color": "#555555", "align": "left", "baseline": "middle"},
      "encoding": {
        "x": {"datum": 0, "type": "quantitative", "scale": {"domain": [0, 1], "range": [38.6, 1281], "nice": false, "zero": false}, "axis": null},
        "y": {"field": "line", "type": "quantitative", "scale": {"domain": [1, 7], "range": [1420.6, 1561.9], "nice": false, "zero": false}, "axis": null},
        "text": {"field": "txt", "type": "nominal"}
      }
    },
    {
      "data": {"values": [{}]},
      "mark": {"type": "text", "text": "FIGURE 3", "font": "Open Sans", "fontSize": 14.8, "color": "#666666", "align": "left", "baseline": "middle"},
      "encoding": {
        "x": {"datum": 0, "type": "quantitative", "scale": {"domain": [0, 1], "range": [38.6, 1281], "nice": false, "zero": false}, "axis": null},
        "y": {"datum": 0.14, "type": "quantitative", "scale": {"domain": [1, 7], "range": [1420.6, 1561.9], "nice": false, "zero": false}, "axis": null}
      }
    }
  ],
  "resolve": {"scale": {"x": "independent", "y": "independent", "color": "independent", "stroke": "independent", "strokeDash": "independent"}}
}
